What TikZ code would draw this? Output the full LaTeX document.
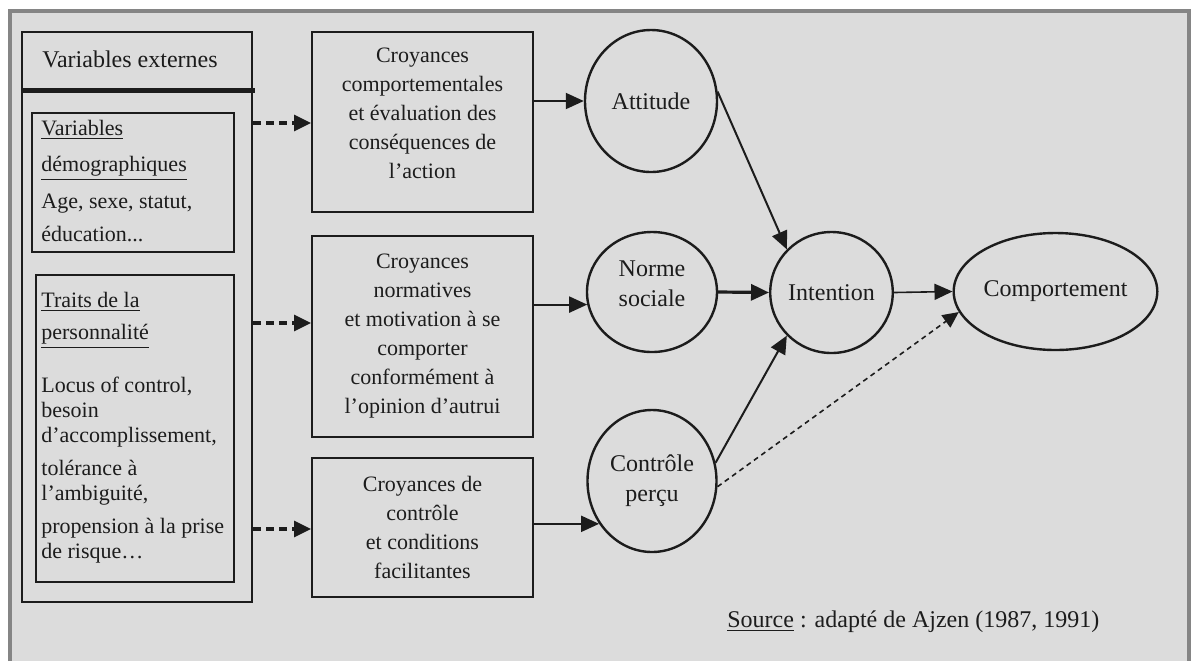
\documentclass[tikz,border=0pt]{standalone}
\usepackage{fontspec}
\setmainfont{Liberation Serif}
\usepackage{tikz}
\usetikzlibrary{positioning,arrows.meta,shapes.geometric,calc}
\definecolor{panelgray}{HTML}{DCDCDC}
\definecolor{framegray}{HTML}{858585}
\definecolor{ink}{HTML}{1C1C1C}

\begin{document}
\begin{tikzpicture}[
    x=0.5pt, y=-0.5pt,
    panel/.style={draw=ink, line width=1pt, inner sep=0pt},
    belief/.style={panel, minimum width=110.5pt},
    beliefText/.style={align=center, inner sep=0pt, font=\fontsize{11}{14.5}\selectfont, text=ink},
    construct/.style={ellipse, draw=ink, line width=1.2pt, inner sep=0pt, align=center, font=\fontsize{12}{15}\selectfont, text=ink},
    sideText/.style={anchor=north west, inner sep=0pt, align=left, font=\fontsize{11}{12.5}\selectfont, text=ink},
    arr/.style={-{Triangle[length=9pt, width=8pt]}, line width=1pt, draw=ink},
    dashArr/.style={-{Triangle[length=8.5pt, width=8pt]}, line width=1.6pt, dash pattern=on 4pt off 2.5pt, draw=ink}
]
    % Page, grey panel and its frame
    \useasboundingbox (0,0) rectangle (1191,661);
    \fill[white] (0,0) rectangle (1191,661);
    \fill[panelgray] (10,11) rectangle (1189,661);
    \draw[framegray, line width=2pt] (10,661) -- (10,11) -- (1189,11) -- (1189,661);

    % External variables column
    \node[panel, minimum width=115pt, minimum height=285pt] (ext) at (137,317) {};
    \node[anchor=base west, inner sep=0pt, font=\fontsize{12}{14}\selectfont, text=ink] (extTitle) at (42,67) {Variables externes};
    \draw[ink, line width=2.5pt] (22,90) -- (255,90);

    \node[panel, minimum width=101pt, minimum height=69.5pt] (demo) at (133,182.5) {};
    \node[sideText] (demoText) at (41,120) {\underline{Variables}\\[5.5pt]
        \underline{démographiques}\\[6pt]
        Age, sexe, statut,\\[4pt]
        éducation...};

    \node[panel, minimum width=99pt, minimum height=153.5pt] (traits) at (135,428.5) {};
    \node[sideText] (traitsText) at (41,292) {\underline{Traits de la}\\[3.5pt]
        \underline{personnalité}\\[14pt]
        Locus of control,\\
        besoin\\
        d’accomplissement,\\[4pt]
        tolérance à\\
        l’ambiguité,\\[4pt]
        propension à la prise\\
        de risque…};

    % Belief boxes
    \node[belief, minimum height=90pt] (croyA) at (422.5,122) {};
    \node[beliefText] (croyAText) at (422.5,113) {Croyances\\comportementales\\et évaluation des\\conséquences de\\l’action};
    \node[belief, minimum height=100.5pt, beliefText] (croyB) at (422.5,336.5) {Croyances\\normatives\\et motivation à se\\comporter\\conformément à\\l’opinion d’autrui};
    \node[belief, minimum height=69.5pt, beliefText] (croyC) at (422.5,527.5) {Croyances de\\contrôle\\et conditions\\facilitantes};

    % Constructs
    \node[construct, minimum width=66pt, minimum height=71pt] (attitude) at (651,101) {Attitude};
    \node[construct, minimum width=65pt, minimum height=60pt] (norme) at (652,292) {};
    \node[align=center, font=\fontsize{12}{15}\selectfont, text=ink, inner sep=0pt] (normeText) at (652,284) {Norme\\sociale};
    \node[construct, minimum width=64.5pt, minimum height=71pt] (controle) at (652,481) {Contrôle\\perçu};
    \node[construct, minimum width=58.5pt, minimum height=60.5pt] (intention) at (831.5,292.5) {Intention};
    \node[construct, minimum width=97.5pt, minimum height=58.5pt] (comport) at (1055.5,291.5) {Comportement};

    % Dashed links from the external variables
    \coordinate (inA) at ($(croyA.west)+(0,1)$);
    \coordinate (inB) at ($(croyB.west)+(0,-13.5)$);
    \coordinate (inC) at ($(croyC.west)+(0,1.5)$);
    \draw[dashArr] (ext.east |- inA) -- (inA);
    \draw[dashArr] (ext.east |- inB) -- (inB);
    \draw[dashArr] (ext.east |- inC) -- (inC);

    % Beliefs to constructs
    \draw[arr] (croyA.east |- attitude.west) -- (attitude.west);
    \draw[arr] (croyB.east |- norme.191.6) -- (norme.191.6);
    \draw[arr] (croyC.east |- controle.219) -- (controle.219);

    % Constructs to intention and behaviour
    \draw[arr] (attitude.8) -- (intention.136);
    \draw[arr, line width=1.6pt] (norme.east) -- (intention.west);
    \draw[arr] (controle.16) -- (intention.224);
    \draw[arr, line width=0.8pt] (intention.east) -- (comport.west);
    \draw[-{Triangle[length=8pt, width=7.5pt]}, line width=0.8pt, dash pattern=on 2.5pt off 2pt, draw=ink] (controle.355) -- (comport.192);

    % Source
    \node[anchor=base west, inner sep=0pt, font=\fontsize{12}{14}\selectfont, text=ink] (source) at (727,627) {\underline{Source} : adapté de Ajzen (1987, 1991)};
\end{tikzpicture}
\end{document}
